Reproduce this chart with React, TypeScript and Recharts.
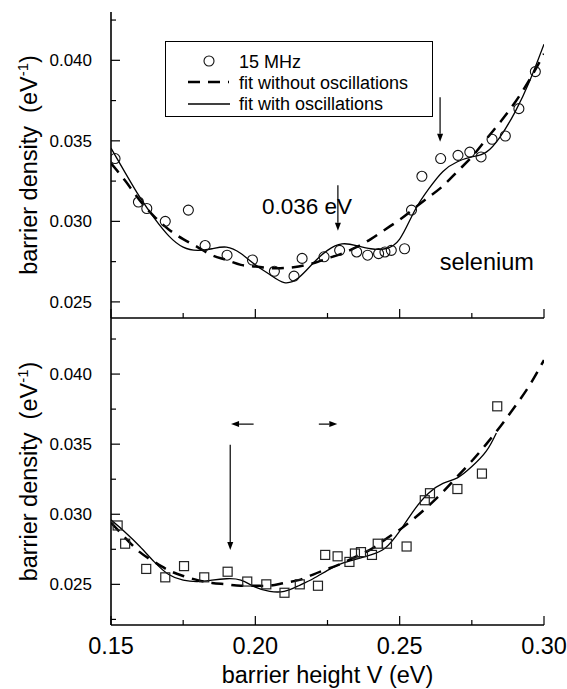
import React from 'react';
import {
  ComposedChart,
  Line,
  Scatter,
  XAxis,
  YAxis,
  ReferenceLine,
  ReferenceDot,
  Legend,
  Label,
} from 'recharts';

const FONT = '"Liberation Sans", Arial, sans-serif';

// upper panel: selenium, 15 MHz
const topPtX = [0.1514, 0.1595, 0.1624, 0.1688, 0.1768, 0.1826, 0.1902, 0.199, 0.2066, 0.2134, 0.2162, 0.2238, 0.2292, 0.2351, 0.2389, 0.2427, 0.2449, 0.2471, 0.2517, 0.2541, 0.2577, 0.2642, 0.2702, 0.2743, 0.2782, 0.282, 0.2866, 0.2913, 0.297];
const topPtY = [0.0339, 0.0312, 0.0308, 0.03, 0.0307, 0.0285, 0.0279, 0.0276, 0.0269, 0.0266, 0.0277, 0.0278, 0.0282, 0.0281, 0.0279, 0.028, 0.0281, 0.0282, 0.0283, 0.0307, 0.0328, 0.0339, 0.0341, 0.0343, 0.034, 0.0351, 0.0353, 0.037, 0.0393];

const topFitX = [0.15, 0.155, 0.16, 0.165, 0.17, 0.175, 0.18, 0.185, 0.19, 0.195, 0.2, 0.205, 0.21, 0.215, 0.22, 0.225, 0.23, 0.235, 0.24, 0.245, 0.25, 0.255, 0.26, 0.265, 0.27, 0.275, 0.28, 0.285, 0.29, 0.295, 0.3];
const topFitY = [0.0336, 0.0325, 0.0313, 0.0303, 0.0295, 0.0289, 0.0284, 0.0279, 0.0276, 0.0273, 0.0272, 0.0271, 0.0271, 0.0272, 0.0274, 0.0277, 0.028, 0.0284, 0.0289, 0.0295, 0.0301, 0.0308, 0.0315, 0.0322, 0.0331, 0.034, 0.0351, 0.0362, 0.0374, 0.0388, 0.0404];

const topOscX = [0.15, 0.155, 0.16, 0.165, 0.17, 0.175, 0.18, 0.185, 0.19, 0.195, 0.2, 0.205, 0.21, 0.215, 0.22, 0.225, 0.23, 0.235, 0.24, 0.245, 0.25, 0.255, 0.26, 0.265, 0.27, 0.275, 0.28, 0.285, 0.29, 0.295, 0.3];
const topOscY = [0.03455, 0.033, 0.0315, 0.0302, 0.0291, 0.0284, 0.0282, 0.0283, 0.0284, 0.028, 0.0273, 0.0267, 0.0262, 0.0265, 0.0274, 0.0282, 0.0286, 0.0285, 0.0283, 0.0283, 0.0289, 0.0306, 0.032, 0.0331, 0.0337, 0.034, 0.0343, 0.0353, 0.0368, 0.0387, 0.041];

// lower panel
const botPtX = [0.1523, 0.1549, 0.1622, 0.1688, 0.1753, 0.1823, 0.1904, 0.1972, 0.2038, 0.2101, 0.2154, 0.2217, 0.2242, 0.2285, 0.2326, 0.2345, 0.2366, 0.2404, 0.2424, 0.2456, 0.2524, 0.2587, 0.2605, 0.27, 0.2785, 0.2838];
const botPtY = [0.0292, 0.0279, 0.0261, 0.0255, 0.0263, 0.0255, 0.0259, 0.0252, 0.025, 0.0244, 0.025, 0.0249, 0.0271, 0.027, 0.0266, 0.0272, 0.0273, 0.0271, 0.0279, 0.0279, 0.0277, 0.031, 0.0315, 0.0318, 0.0329, 0.0377];

const botFitX = [0.15, 0.155, 0.16, 0.165, 0.17, 0.175, 0.18, 0.185, 0.19, 0.195, 0.2, 0.205, 0.21, 0.215, 0.22, 0.225, 0.23, 0.235, 0.24, 0.245, 0.25, 0.255, 0.26, 0.265, 0.27, 0.275, 0.28, 0.285, 0.29, 0.295, 0.3];
const botFitY = [0.0294, 0.0283, 0.0273, 0.0266, 0.026, 0.0256, 0.0253, 0.0251, 0.025, 0.0249, 0.0249, 0.0249, 0.0251, 0.0253, 0.0257, 0.0261, 0.0265, 0.027, 0.0275, 0.0282, 0.0289, 0.0297, 0.0306, 0.0316, 0.0327, 0.0338, 0.035, 0.0363, 0.0377, 0.0392, 0.041];

const botOscX = [0.15, 0.155, 0.16, 0.165, 0.17, 0.175, 0.18, 0.185, 0.19, 0.195, 0.2, 0.205, 0.21, 0.215, 0.22, 0.225, 0.23, 0.235, 0.24, 0.245, 0.25, 0.255, 0.26, 0.265, 0.27, 0.275, 0.28, 0.2835];
const botOscY = [0.0296, 0.0287, 0.0277, 0.0266, 0.0257, 0.0253, 0.0252, 0.0253, 0.0254, 0.0253, 0.0248, 0.0245, 0.0245, 0.0249, 0.0254, 0.026, 0.0265, 0.0268, 0.0271, 0.0276, 0.0288, 0.0303, 0.0315, 0.0322, 0.0326, 0.0334, 0.0345, 0.0358];

const xTicks = [0.15, 0.175, 0.2, 0.225, 0.25, 0.275, 0.3];
const yTicksTop = [0.025, 0.0275, 0.03, 0.0325, 0.035, 0.0375, 0.04, 0.0425];
const yTicksBot = [0.0225, 0.025, 0.0275, 0.03, 0.0325, 0.035, 0.0375, 0.04, 0.0425];

const zip = (xs: number[], ys: number[]) => xs.map((x, i) => ({ x, y: ys[i] }));
const isMult = (v: number, step: number) => Math.abs(v / step - Math.round(v / step)) < 1e-6;

const tickLine = { stroke: '#000', strokeWidth: 1.2 };
const frame = { stroke: '#000', strokeWidth: 1.6 };

const xTick = (dir: number, labels: boolean) => (p: any) => {
  const { x, y, payload } = p;
  const major = isMult(payload.value, 0.05);
  return (
    <g>
      <line x1={x} x2={x} y1={y} y2={y + dir * (major ? 9 : 5)} {...tickLine} />
      {labels && major && (
        <text x={x} y={y + 29} textAnchor="middle" fontSize={23.5} fontFamily={FONT} fill="#000">
          {payload.value.toFixed(2)}
        </text>
      )}
    </g>
  );
};

const yTick = (dir: number, labels: boolean) => (p: any) => {
  const { x, y, payload } = p;
  const major = isMult(payload.value, 0.005);
  return (
    <g>
      <line x1={x} x2={x + dir * (major ? 9 : 5)} y1={y} y2={y} {...tickLine} />
      {labels && major && (
        <text x={92} y={y + 6} textAnchor="end" fontSize={17} fontFamily={FONT} fill="#000">
          {payload.value.toFixed(3)}
        </text>
      )}
    </g>
  );
};

const YTitle = (p: any) => {
  const { viewBox } = p;
  const cy = viewBox.y + viewBox.height / 2;
  const bx = 37;
  return (
    <text
      x={bx}
      y={cy}
      transform={`rotate(-90 ${bx} ${cy})`}
      textAnchor="middle"
      fontSize={23.5}
      fontFamily={FONT}
      fill="#000"
      style={{ whiteSpace: 'pre' }}
    >
      <tspan>{'barrier density  (eV'}</tspan>
      <tspan dy={-9} fontSize={15}>-1</tspan>
      <tspan dy={9}>)</tspan>
    </text>
  );
};

const XTitle = (p: any) => {
  const { viewBox } = p;
  return (
    <text
      x={viewBox.x + viewBox.width / 2}
      y={viewBox.y + 58}
      textAnchor="middle"
      fontSize={23.5}
      fontFamily={FONT}
      fill="#000"
    >
      barrier height V (eV)
    </text>
  );
};

const Circle = (p: any) => (
  <circle cx={p.cx} cy={p.cy} r={5} fill="none" stroke="#111" strokeWidth={1.1} />
);
const Square = (p: any) => (
  <rect x={p.cx - 4.5} y={p.cy - 4.5} width={9} height={9} fill="none" stroke="#222" strokeWidth={1.2} />
);

const Arrow = (p: any) => {
  const { x1, y1, x2, y2 } = p;
  const a = Math.atan2(y2 - y1, x2 - x1);
  const len = 8;
  const half = 3;
  const bx = x2 - len * Math.cos(a);
  const by = y2 - len * Math.sin(a);
  const nx = -Math.sin(a) * half;
  const ny = Math.cos(a) * half;
  return (
    <g>
      <line x1={x1} y1={y1} x2={bx} y2={by} stroke="#000" strokeWidth={1.2} />
      <polygon points={`${x2},${y2} ${bx + nx},${by + ny} ${bx - nx},${by - ny}`} fill="#000" />
    </g>
  );
};

const textAt = (txt: string, size: number) => (p: any) => (
  <text x={p.cx} y={p.cy} fontSize={size} fontFamily={FONT} fill="#000">
    {txt}
  </text>
);

const LegendBox = () => (
  <svg width={268} height={76} style={{ display: 'block' }} fontFamily={FONT}>
    <rect x={0.5} y={0.5} width={267} height={75} fill="#fff" stroke="#000" strokeWidth={1} />
    <circle cx={44} cy={20} r={5} fill="none" stroke="#111" strokeWidth={1.1} />
    <text x={74} y={26.5} fontSize={18}>15 MHz</text>
    <line x1={23} x2={64} y1={41} y2={41} stroke="#000" strokeWidth={2.5} strokeDasharray="12 8" />
    <text x={74} y={47.5} fontSize={18}>fit without oscillations</text>
    <line x1={23} x2={65} y1={63} y2={63} stroke="#000" strokeWidth={1.3} />
    <text x={74} y={68.5} fontSize={18}>fit with oscillations</text>
  </svg>
);

type PanelProps = {
  height: number;
  margin: { top: number; right: number; bottom: number; left: number };
  xAxisHeight: number;
  domain: [number, number];
  yTicks: number[];
  pts: { x: number; y: number }[];
  fit: { x: number; y: number }[];
  osc: { x: number; y: number }[];
  marker: (p: any) => React.ReactElement;
  bottomLabels: boolean;
  children?: React.ReactNode;
};

const Panel = (props: PanelProps) => (
  <ComposedChart width={567} height={props.height} margin={props.margin}>
    <XAxis
      dataKey="x"
      type="number"
      domain={[0.15, 0.3]}
      ticks={xTicks}
      interval={0}
      allowDataOverflow
      height={props.xAxisHeight}
      tickSize={0}
      tickMargin={0}
      tickLine={false}
      axisLine={frame}
      tick={xTick(-1, props.bottomLabels)}
    >
      {props.bottomLabels && <Label content={XTitle} />}
    </XAxis>
    <XAxis
      xAxisId="top"
      orientation="top"
      type="number"
      domain={[0.15, 0.3]}
      ticks={xTicks}
      interval={0}
      allowDataOverflow
      height={0}
      tickSize={0}
      tickMargin={0}
      tickLine={false}
      axisLine={frame}
      tick={xTick(1, false)}
    />
    <YAxis
      dataKey="y"
      type="number"
      domain={props.domain}
      ticks={props.yTicks}
      interval={0}
      allowDataOverflow
      width={111}
      tickSize={0}
      tickMargin={0}
      tickLine={false}
      axisLine={frame}
      tick={yTick(1, true)}
    >
      <Label content={YTitle} />
    </YAxis>
    <YAxis
      yAxisId="right"
      orientation="right"
      type="number"
      domain={props.domain}
      ticks={props.yTicks}
      interval={0}
      allowDataOverflow
      width={0}
      tickSize={0}
      tickMargin={0}
      tickLine={false}
      axisLine={frame}
      tick={yTick(-1, false)}
    />
    <Line
      data={props.fit}
      dataKey="y"
      type="natural"
      dot={false}
      stroke="#000"
      strokeWidth={2.5}
      strokeDasharray="12 8"
      isAnimationActive={false}
      legendType="none"
    />
    <Line
      data={props.osc}
      dataKey="y"
      type="natural"
      dot={false}
      stroke="#000"
      strokeWidth={1.3}
      isAnimationActive={false}
      legendType="none"
    />
    <Scatter data={props.pts} shape={props.marker} isAnimationActive={false} legendType="none" />
    {props.children}
  </ComposedChart>
);

export default function App() {
  return (
    <div style={{ position: 'absolute', left: 0, top: 0, width: 567, height: 689, background: '#fff', fontFamily: FONT }}>
      <div style={{ position: 'absolute', left: 0, top: 0 }}>
        <Panel
          height={324}
          margin={{ top: 12, right: 23, bottom: 0, left: 0 }}
          xAxisHeight={6}
          domain={[0.024, 0.043]}
          yTicks={yTicksTop}
          pts={zip(topPtX, topPtY)}
          fit={zip(topFitX, topFitY)}
          osc={zip(topOscX, topOscY)}
          marker={Circle}
          bottomLabels={false}
        >
          <Legend
            layout="horizontal"
            verticalAlign="middle"
            align="center"
            content={LegendBox}
            wrapperStyle={{ left: 165, top: 41, width: 268, height: 76 }}
          />
          <ReferenceLine segment={[{ x: 0.2286, y: 0.03225 }, { x: 0.2286, y: 0.02942 }]} shape={Arrow} />
          <ReferenceLine segment={[{ x: 0.264, y: 0.0377 }, { x: 0.264, y: 0.03494 }]} shape={Arrow} />
          <ReferenceDot x={0.2023} y={0.03046} r={0} shape={textAt('0.036 eV', 22.5)} />
          <ReferenceDot x={0.2639} y={0.027} r={0} shape={textAt('selenium', 23.5)} />
        </Panel>
      </div>
      <div style={{ position: 'absolute', left: 0, top: 312 }}>
        <Panel
          height={377}
          margin={{ top: 6, right: 23, bottom: 0, left: 0 }}
          xAxisHeight={64}
          domain={[0.0221, 0.044]}
          yTicks={yTicksBot}
          pts={zip(botPtX, botPtY)}
          fit={zip(botFitX, botFitY)}
          osc={zip(botOscX, botOscY)}
          marker={Square}
          bottomLabels={true}
        >
          <ReferenceLine segment={[{ x: 0.1913, y: 0.03495 }, { x: 0.1913, y: 0.02745 }]} shape={Arrow} />
          <ReferenceLine segment={[{ x: 0.1994, y: 0.03643 }, { x: 0.1916, y: 0.03643 }]} shape={Arrow} />
          <ReferenceLine segment={[{ x: 0.222, y: 0.03643 }, { x: 0.2284, y: 0.03643 }]} shape={Arrow} />
        </Panel>
      </div>
    </div>
  );
}
